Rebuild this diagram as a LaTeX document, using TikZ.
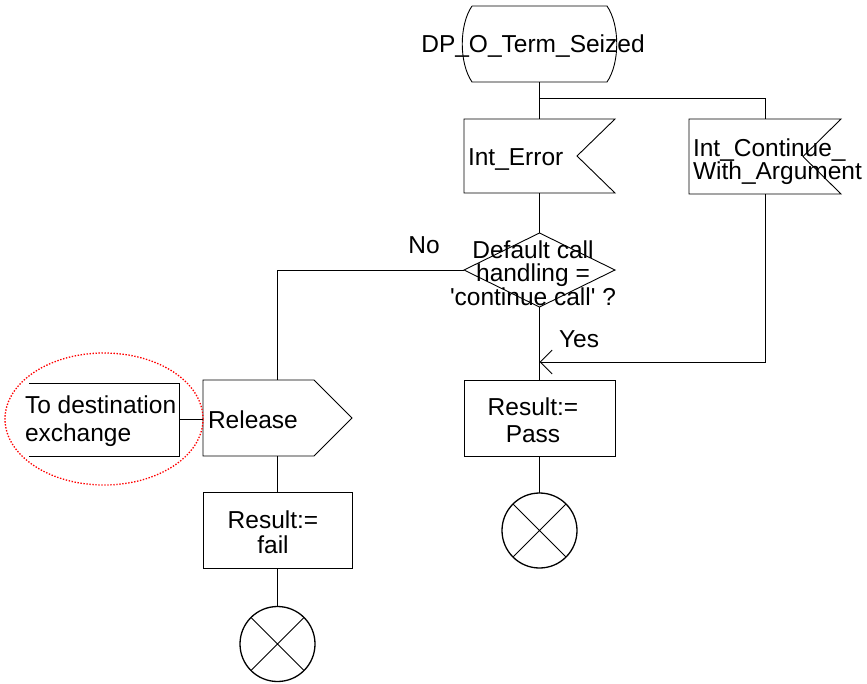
\documentclass[tikz,border=0pt]{standalone}
\usepackage{fontspec}
\setmainfont{Liberation Sans}
\usetikzlibrary{calc,shapes.geometric,arrows.meta}
\begin{document}
\begin{tikzpicture}[x=1pt,y=-1pt,
  line width=0.9pt,
  every node/.style={inner sep=0pt,outer sep=0pt},
  frame/.style={rectangle,draw=none},
  lbl/.style={font=\fontsize{24.5}{24.5}\selectfont,anchor=base},
  lblw/.style={font=\fontsize{24.5}{24.5}\selectfont,anchor=base west},
  stopc/.style={circle,draw,line width=1.3pt,minimum size=75pt},
  hl/.style={ellipse,draw=red,line width=1.3pt,dash pattern=on 1.4pt off 1.6pt,minimum width=198pt,minimum height=132pt},
  arr/.style={-{Straight Barb[length=12pt,width=24pt]}}
]
\useasboundingbox (0,0) rectangle (867,683);

% state
\node[frame,minimum width=135pt,minimum height=76pt] (state) at (539.5,44) {};
\draw (state.north west) -- (state.north east)
  .. controls +(13,19) and +(13,-19) .. (state.south east)
  -- (state.south west)
  .. controls +(-13,-19) and +(-13,19) .. (state.north west);

% inputs
\node[frame,minimum width=151pt,minimum height=74pt] (err) at (539.5,156) {};
\draw (err.north west) -- (err.north east) -- ($(err.east)+(-38,0)$) -- (err.south east) -- (err.south west) -- cycle;
\node[frame,minimum width=152pt,minimum height=75pt] (cont) at (765,156.5) {};
\draw (cont.north west) -- (cont.north east) -- ($(cont.east)+(-38,0)$) -- (cont.south east) -- (cont.south west) -- cycle;

% decision
\node[diamond,draw,minimum width=151pt,minimum height=74pt] (dec) at (539.5,270) {};

% output
\node[frame,minimum width=149pt,minimum height=76pt] (rel) at (277.5,418) {};
\draw (rel.north west) -- ($(rel.north east)+(-38,0)$) -- (rel.east) -- ($(rel.south east)+(-38,0)$) -- (rel.south west) -- cycle;

% environment
\node[frame,minimum width=150pt,minimum height=73pt] (env) at (104,419.5) {};
\draw (env.north west) -- (env.north east) -- (env.south east) -- (env.south west);
\node[hl] (hlt) at (104,419) {};

% tasks
\node[rectangle,draw,minimum width=149pt,minimum height=76pt] (fail) at (277.5,530) {};
\node[rectangle,draw,minimum width=151pt,minimum height=76pt] (pass) at (539.5,418) {};

% stops
\node[stopc] (stop1) at (277.5,644) {};
\draw (stop1.north west) -- (stop1.south east) (stop1.north east) -- (stop1.south west);
\node[stopc] (stop2) at (539.5,530.5) {};
\draw (stop2.north west) -- (stop2.south east) (stop2.north east) -- (stop2.south west);

% connectors
\draw (state.south) -- (err.north);
\draw ($(state.south)+(0,16)$) -| (cont.north);
\draw (err.south) -- (dec.north);
\draw (dec.west) -| (rel.north);
\draw (dec.south) -- (pass.north);
\draw[arr] (cont.south) |- ($(pass.north)+(0,-18)$);
\draw (env.east) -- (env.east -| rel.west);
\draw (rel.south) -- (fail.north);
\draw (fail.south) -- (stop1.north);
\draw (pass.south) -- (stop2.north);

% texts
\node[lbl] (tDP) at (533,52) {DP\_O\_Term\_Seized};
\node[lblw] (tErr) at (468,165) {Int\_Error};
\node[lblw] (tC1) at (693,156) {Int\_Continue\_};
\node[lblw] (tC2) at (693,179) {With\_Argument};
\node[lbl] (tD1) at (533,258) {Default call};
\node[lbl] (tD2) at (533,281) {handling =};
\node[lbl] (tD3) at (533,305) {\textquotesingle continue call\textquotesingle\ ?};
\node[lbl] (tNo) at (424,253) {No};
\node[lbl] (tYes) at (579,347) {Yes};
\node[lblw] (tRel) at (208,428) {Release};
\node[lblw] (tE1) at (25,413) {To destination};
\node[lblw] (tE2) at (25,441) {exchange};
\node[lbl] (tF1) at (273,528) {Result:=};
\node[lbl] (tF2) at (273,553) {fail};
\node[lbl] (tP1) at (533,415) {Result:=};
\node[lbl] (tP2) at (533,442) {Pass};
\end{tikzpicture}
\end{document}
